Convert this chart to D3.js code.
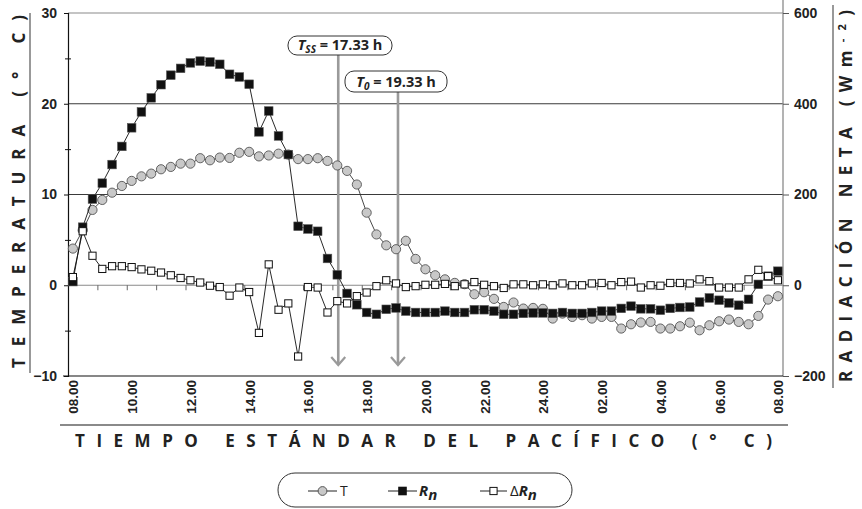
<!DOCTYPE html>
<html><head><meta charset="utf-8">
<script src="https://cdn.jsdelivr.net/npm/d3@7"></script>
<style>
html,body{margin:0;padding:0;background:#fff;}
svg{display:block;font-family:"Open Sans","DejaVu Sans",sans-serif;}
</style></head>
<body>
<svg id="chart" width="862" height="509"></svg>
<script>
// ---- data (20-minute readings, 08:00 to 08:00 next day) ----
const xTickLabels = ["08.00","10.00","12.00","14.00","16.00","18.00","20.00","22.00","24.00","02.00","04.00","06.00","08.00"];
const tempC = [4.04,6.06,8.3,9.4,10.2,10.94,11.5,12.0,12.3,12.78,13.04,13.4,13.4,14.0,13.77,14.07,14.03,14.6,14.7,14.2,
  14.3,14.5,14.4,13.9,13.9,14.0,13.7,13.2,12.6,11.1,8.0,5.6,4.4,3.97,4.9,2.9,1.76,1.1,0.65,0.26,
  0.12,-0.99,-0.77,-1.5,-2.39,-1.9,-2.57,-2.5,-2.6,-3.67,-3.12,-3.49,-3.3,-3.67,-3.49,-3.49,-4.77,-4.3,-4.1,-4.04,
  -4.77,-4.77,-4.52,-4.12,-4.96,-4.41,-3.97,-3.78,-4.04,-4.3,-3.38,-1.58,-1.21];
const netRad = [8,128,190,225,266,306,347,382,413,442,463,478,490,494,492,487,465,459,443,338,
  384,329,288,130,124,119,59,23,-18,-43,-60,-64,-53,-50,-57,-60,-60,-60,-57,-60,
  -60,-54,-54,-57,-64,-64,-62,-61,-61,-62,-60,-62,-62,-60,-57,-57,-51,-46,-52,-52,
  -55,-51,-49,-48,-37,-28,-33,-39,-44,-31,2,20,31];
const deltaRad = [18,119,65,36,42,42,40,35,32,28,22,16,11,6,-1,-4,-23,-5,-15,-105,
  46,-54,-40,-157,-4,-5,-60,-35,-40,-24,-16,-2,11,4,-4,-2,1,1,3,-2,
  2,7,1,-2,-6,2,2,0,2,0,4,0,0,4,5,0,7,8,-5,0,
  -1,5,5,4,13,9,-5,-5,-5,13,34,20,11];
const leftTicks = [-10,0,10,20,30];
const leftMinor = [-5,5,15,25];
const rightTicks = [-200,0,200,400,600];
// annotation markers (position, in reading index) and labels
const annotPos = [27.1, 33.2];
const annotSub = ["SS","0"];
const annotVal = ["17.33 h","19.33 h"];

// ---- layout ----
const svg = d3.select("#chart");
const L = 68, R = 783, TOP = 13, BOT = 376;
const x = d3.scaleLinear().domain([0, tempC.length-1]).range([72.9, 777.9]);
const yL = d3.scaleLinear().domain([-10,30]).range([BOT, TOP]);
const yR = d3.scaleLinear().domain([-200,600]).range([BOT, TOP]);

// gridlines
const grid = [{v:30,c:"#8a8a8a"},{v:20,c:"#3a3a3a"},{v:10,c:"#3a3a3a"},{v:0,c:"#8a8a8a"}];
svg.append("g").selectAll("line").data(grid).join("line")
  .attr("x1", L).attr("x2", R).attr("y1", d=>yL(d.v)).attr("y2", d=>yL(d.v))
  .attr("stroke", d=>d.c).attr("stroke-width", 1.1);

// hourly ticks on zero line (between readings)
const hourTicks = d3.axisBottom(x).tickValues(d3.range(2.5, 71, 3)).tickSize(5).tickFormat("");
const ht = svg.append("g").attr("transform", `translate(0,${yL(0)})`).call(hourTicks);
ht.select(".domain").remove();
ht.selectAll("line").attr("stroke","#555").attr("stroke-width",0.9);

// left axis
const la = svg.append("g").attr("transform", `translate(${L},0)`)
  .call(d3.axisLeft(yL).tickValues(leftTicks).tickSize(4).tickPadding(7));
la.select(".domain").attr("stroke","#111").attr("stroke-width",1.2);
la.selectAll("line").attr("stroke","#111");
la.selectAll("text").attr("font-size",14).attr("font-weight","bold").attr("fill","#222");
const lm1 = svg.append("g").attr("transform", `translate(${L},0)`)
  .call(d3.axisLeft(yL).tickValues(leftMinor).tickSize(3).tickFormat(""));
const lm2 = svg.append("g").attr("transform", `translate(${L},0)`)
  .call(d3.axisRight(yL).tickValues(leftMinor).tickSize(3).tickFormat(""));
[lm1,lm2].forEach(g=>{g.select(".domain").remove(); g.selectAll("line").attr("stroke","#111");});

// right axis
svg.append("line").attr("x1",R).attr("x2",R).attr("y1",0).attr("y2",BOT).attr("stroke","#8a8a8a").attr("stroke-width",1.3);
const ra = svg.append("g").attr("transform", `translate(${R},0)`)
  .call(d3.axisRight(yR).tickValues(rightTicks).tickSize(6).tickPadding(5));
ra.select(".domain").remove();
ra.selectAll("line").attr("stroke","#555");
ra.selectAll("text").attr("font-size",14).attr("font-weight","bold").attr("fill","#222");

// bottom axis line + rotated labels
svg.append("line").attr("x1",63).attr("x2",R).attr("y1",BOT).attr("y2",BOT).attr("stroke","#111").attr("stroke-width",1.2);
const xa = svg.append("g").attr("transform", `translate(0,${BOT})`)
  .call(d3.axisBottom(x).tickValues(d3.range(0, 73, 6)).tickSize(0).tickFormat((d,i)=>xTickLabels[i]));
xa.select(".domain").remove();
xa.selectAll("text").attr("transform","rotate(-90)").attr("x",-4).attr("y",0).attr("dy","0.36em")
  .style("text-anchor","end").attr("font-size",13.5).attr("font-weight","bold").attr("fill","#222");

// axis titles
svg.append("line").attr("x1",L-8).attr("x2",788).attr("y1",425).attr("y2",425).attr("stroke","#8a8a8a").attr("stroke-width",2);
svg.append("text").attr("x",75).attr("y",447).attr("textLength",697).attr("lengthAdjust","spacing")
  .attr("font-size",17).attr("font-weight","bold").attr("fill","#222")
  .text("TIEMPO ESTÁNDAR DEL PACÍFICO (° C)");

svg.append("line").attr("x1",30).attr("x2",30).attr("y1",13).attr("y2",373).attr("stroke","#555").attr("stroke-width",1.2);
svg.append("text").attr("transform","translate(25,368) rotate(-90)")
  .attr("textLength",353).attr("lengthAdjust","spacing")
  .attr("font-size",17).attr("font-weight","bold").attr("fill","#222")
  .text("TEMPERATURA (° C)");

svg.append("line").attr("x1",833).attr("x2",833).attr("y1",5).attr("y2",388).attr("stroke","#555").attr("stroke-width",1.2);
const rt = svg.append("text").attr("transform","translate(852,382) rotate(-90)")
  .attr("textLength",372).attr("lengthAdjust","spacing")
  .attr("font-size",17).attr("font-weight","bold").attr("fill","#222");
rt.append("tspan").text("RADIACIÓN NETA (Wm");
rt.append("tspan").attr("dy",-6).attr("font-size",11).text("-2");
rt.append("tspan").attr("dy",6).text(")");

// annotations
const boxes = [{x0:288,x1:392,y0:36,y1:55},{x0:345,x1:447,y0:71,y1:92}];
annotPos.forEach((p,i)=>{
  const b = boxes[i], xx = x(p), g = svg.append("g");
  g.append("line").attr("x1",xx).attr("x2",xx).attr("y1",b.y1).attr("y2",365).attr("stroke","#9a9a9a").attr("stroke-width",2.6);
  g.append("path").attr("d",`M${xx-7},${357}L${xx},${365}L${xx+7},${357}`).attr("fill","none").attr("stroke","#9a9a9a").attr("stroke-width",2.2);
  g.append("rect").attr("x",b.x0).attr("y",b.y0).attr("width",b.x1-b.x0).attr("height",b.y1-b.y0)
    .attr("rx",9).attr("fill","#fff").attr("stroke","#333").attr("stroke-width",1);
  const t = g.append("text").attr("x",(b.x0+b.x1)/2).attr("y",b.y1-5).attr("text-anchor","middle")
    .attr("font-size",14.5).attr("font-weight","bold").attr("fill","#222");
  t.append("tspan").attr("font-style","italic").text("T");
  t.append("tspan").attr("font-style","italic").attr("font-size",10).attr("dy",3).text(annotSub[i]);
  t.append("tspan").attr("dy",-3).text(" = " + annotVal[i]);
});

// series
const idx = d3.range(tempC.length);
const lineT = d3.line().x(i=>x(i)).y(i=>yL(tempC[i]));
const lineR = d3.line().x(i=>x(i)).y(i=>yR(netRad[i]));
const lineD = d3.line().x(i=>x(i)).y(i=>yR(deltaRad[i]));

svg.append("path").attr("d",lineT(idx)).attr("fill","none").attr("stroke","#333").attr("stroke-width",0.9);
svg.append("g").selectAll("circle").data(idx).join("circle")
  .attr("cx",i=>x(i)).attr("cy",i=>yL(tempC[i])).attr("r",4.6)
  .attr("fill","#c8c8c8").attr("stroke","#555").attr("stroke-width",0.9);

svg.append("path").attr("d",lineR(idx)).attr("fill","none").attr("stroke","#111").attr("stroke-width",0.9);
const sb = 8.6;
svg.append("g").selectAll("rect").data(idx).join("rect")
  .attr("x",i=>x(i)-sb/2).attr("y",i=>yR(netRad[i])-sb/2).attr("width",sb).attr("height",sb)
  .attr("fill","#111").attr("stroke","#555").attr("stroke-width",0.6);

svg.append("path").attr("d",lineD(idx)).attr("fill","none").attr("stroke","#111").attr("stroke-width",0.9);
const sw = 7.2;
svg.append("g").selectAll("rect").data(idx).join("rect")
  .attr("x",i=>x(i)-sw/2).attr("y",i=>yR(deltaRad[i])-sw/2).attr("width",sw).attr("height",sw)
  .attr("fill","#fff").attr("stroke","#111").attr("stroke-width",1);

// legend
const lg = svg.append("g");
lg.append("rect").attr("x",278).attr("y",473).attr("width",294).attr("height",34).attr("rx",17)
  .attr("fill","#fff").attr("stroke","#333").attr("stroke-width",1);
const ly = 491;
const items = [{x0:308,x1:337,k:"T"},{x0:388,x1:417,k:"R"},{x0:480,x1:507,k:"D"}];
items.forEach(it=>{
  lg.append("line").attr("x1",it.x0).attr("x2",it.x1).attr("y1",ly).attr("y2",ly).attr("stroke","#222").attr("stroke-width",1);
  const cx = (it.x0+it.x1)/2;
  if(it.k==="T") lg.append("circle").attr("cx",cx).attr("cy",ly).attr("r",4.4).attr("fill","#c8c8c8").attr("stroke","#555");
  if(it.k==="R") lg.append("rect").attr("x",cx-4.3).attr("y",ly-4.3).attr("width",8.6).attr("height",8.6).attr("fill","#111");
  if(it.k==="D") lg.append("rect").attr("x",cx-3.6).attr("y",ly-3.6).attr("width",7.2).attr("height",7.2).attr("fill","#fff").attr("stroke","#111");
});
lg.append("text").attr("x",340).attr("y",ly+5).attr("font-size",14).attr("fill","#222").text("T");
const lr = lg.append("text").attr("x",419).attr("y",ly+5).attr("font-size",15).attr("font-weight","bold").attr("font-style","italic").attr("fill","#222");
lr.append("tspan").text("R");
lr.append("tspan").attr("dy",4).text("n");
const ld = lg.append("text").attr("x",510).attr("y",ly+5).attr("font-size",15).attr("fill","#222");
ld.append("tspan").text("Δ");
ld.append("tspan").attr("font-style","italic").attr("font-weight","bold").text("R");
ld.append("tspan").attr("font-style","italic").attr("font-weight","bold").attr("dy",4).text("n");
</script>
</body></html>
